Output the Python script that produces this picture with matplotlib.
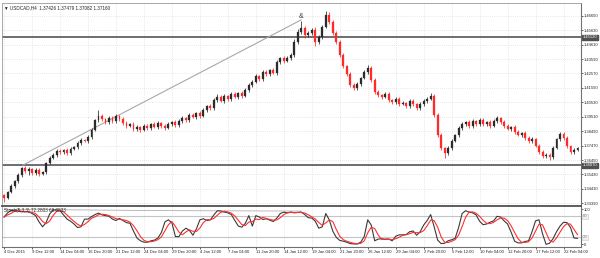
import numpy as np
import pandas as pd
import matplotlib
matplotlib.use("Agg")
import matplotlib.pyplot as plt

plt.rcParams["font.family"] = ["Liberation Sans", "DejaVu Sans"]

# ---------------- data ----------------
first_open = 1.3400
closes = [
    1.3376, 1.3419, 1.3461, 1.3496, 1.3539, 1.3588, 1.3567, 1.3581, 1.3553, 1.3574, 1.3546, 1.3560, 1.3624, 1.3659, 1.3680,
    1.3708, 1.3701, 1.3716, 1.3694, 1.3723, 1.3737, 1.3765, 1.3786, 1.3779, 1.3807, 1.3857, 1.3928, 1.3956, 1.3935, 1.3913,
    1.3942, 1.3920, 1.3956, 1.3935, 1.3906, 1.3885, 1.3899, 1.3864, 1.3878, 1.3857, 1.3885, 1.3871, 1.3899, 1.3878, 1.3906,
    1.3885, 1.3871, 1.3899, 1.3913, 1.3892, 1.3920, 1.3942, 1.3928, 1.3963, 1.3949, 1.3977, 1.3956, 1.3998, 1.4027, 1.4012,
    1.4069, 1.4090, 1.4062, 1.4097, 1.4076, 1.4111, 1.4090, 1.4119, 1.4097, 1.4140, 1.4175, 1.4196, 1.4239, 1.4218, 1.4267,
    1.4253, 1.4281, 1.4260, 1.4338, 1.4366, 1.4345, 1.4366, 1.4387, 1.4479, 1.4550, 1.4578, 1.4529, 1.4543, 1.4564, 1.4479,
    1.4514, 1.4585, 1.4670, 1.4620, 1.4543, 1.4479, 1.4387, 1.4309, 1.4253, 1.4175, 1.4154, 1.4182, 1.4225, 1.4267, 1.4295,
    1.4210, 1.4126, 1.4104, 1.4090, 1.4111, 1.4069, 1.4055, 1.4076, 1.4041, 1.4048, 1.4027, 1.4062, 1.4041, 1.4012, 1.4041,
    1.4062, 1.4076, 1.4097, 1.3963, 1.3822, 1.3730, 1.3694, 1.3730, 1.3779, 1.3822, 1.3871, 1.3899, 1.3913, 1.3885, 1.3920,
    1.3899, 1.3928, 1.3899, 1.3913, 1.3885, 1.3920, 1.3942, 1.3913, 1.3885, 1.3864, 1.3878, 1.3843, 1.3822, 1.3836, 1.3800,
    1.3779, 1.3793, 1.3744, 1.3701, 1.3673, 1.3680, 1.3666, 1.3730, 1.3793, 1.3829, 1.3800, 1.3744, 1.3701, 1.3716, 1.3730,
]
upper_wick_pips = [
    8, 10, 12, 8, 14, 10, 18, 12, 10, 16, 12, 10, 8, 14, 12,
    18, 14, 10, 16, 12, 10, 14, 12, 10, 15, 12, 10, 40, 14, 10,
    16, 12, 14, 10, 12, 15, 10, 14, 12, 10, 16, 12, 10, 14, 12,
    10, 15, 12, 10, 14, 12, 16, 10, 12, 14, 10, 12, 18, 10, 12,
    14, 25, 12, 16, 10, 12, 14, 10, 12, 15, 16, 12, 14, 10, 12,
    15, 10, 14, 12, 10, 16, 12, 14, 18, 20, 50, 15, 14, 12, 18,
    14, 16, 30, 20, 15, 12, 14, 12, 10, 16, 12, 14, 10, 12, 20,
    14, 12, 16, 10, 12, 14, 10, 12, 16, 14, 10, 12, 14, 10, 12,
    15, 12, 25, 16, 14, 12, 10, 12, 14, 10, 12, 14, 10, 12, 16,
    10, 12, 14, 10, 12, 16, 14, 10, 12, 14, 10, 12, 14, 10, 12,
    15, 14, 10, 12, 14, 12, 16, 14, 10, 12, 14, 12, 10, 12, 10,
]
lower_wick_pips = [
    25, 10, 8, 12, 10, 14, 12, 30, 16, 12, 14, 10, 12, 8, 10,
    12, 16, 10, 14, 12, 10, 12, 14, 10, 12, 15, 10, 12, 14, 16,
    12, 14, 10, 12, 16, 14, 10, 12, 14, 16, 10, 12, 14, 10, 12,
    14, 12, 10, 16, 12, 14, 10, 12, 14, 10, 12, 16, 10, 12, 14,
    12, 14, 10, 12, 16, 14, 10, 12, 14, 10, 12, 16, 10, 12, 14,
    12, 14, 10, 12, 16, 14, 10, 12, 14, 12, 14, 20, 12, 14, 25,
    14, 12, 10, 12, 14, 16, 12, 14, 12, 16, 14, 12, 14, 10, 12,
    16, 14, 12, 14, 10, 12, 16, 14, 12, 10, 14, 12, 16, 14, 12,
    12, 14, 10, 16, 14, 12, 35, 14, 12, 10, 12, 14, 10, 12, 14,
    12, 10, 14, 12, 16, 10, 12, 14, 12, 10, 14, 12, 10, 16, 12,
    14, 12, 10, 16, 12, 14, 18, 12, 10, 14, 12, 16, 14, 12, 10,
]
stoch_k = [
    78, 90, 97, 96, 95, 93, 93, 93, 88, 82, 64, 50, 62, 86, 98,
    98, 96, 84, 72, 66, 58, 48, 50, 72, 72, 79, 85, 89, 84, 82,
    80, 72, 68, 74, 68, 62, 60, 38, 18, 10, 6, 6, 10, 12, 18,
    34, 64, 70, 61, 22, 22, 38, 46, 40, 26, 44, 70, 73, 68, 70,
    84, 96, 95, 92, 90, 85, 68, 52, 49, 60, 82, 52, 82, 78, 71,
    73, 69, 65, 75, 88, 92, 90, 92, 90, 91, 92, 85, 76, 75, 66,
    46, 50, 88, 70, 38, 20, 11, 9, 6, 2, 1, 1, 6, 22, 70,
    55, 10, 15, 16, 14, 15, 10, 23, 27, 27, 28, 36, 38, 26, 36,
    55, 68, 85, 50, 12, 2, 3, 10, 13, 17, 48, 88, 96, 92, 90,
    84, 66, 56, 58, 63, 67, 80, 78, 67, 58, 35, 9, 4, 4, 8,
    10, 36, 67, 70, 30, 0, 3, 16, 36, 52, 63, 62, 48, 18, 17,
]
price_ticks = [1.46650, 1.45630, 1.44610, 1.43590, 1.42570, 1.41550, 1.40530,
               1.39510, 1.38490, 1.37470, 1.36450, 1.35430, 1.34410, 1.33390]
x_labels = ["4 Dec 2015", "9 Dec 12:00", "14 Dec 04:00", "16 Dec 20:00", "21 Dec 12:00",
            "24 Dec 04:00", "29 Dec 20:00", "4 Jan 12:00", "7 Jan 04:00", "11 Jan 20:00",
            "14 Jan 12:00", "19 Jan 04:00", "21 Jan 20:00", "26 Jan 12:00", "29 Jan 04:00",
            "2 Feb 20:00", "5 Feb 12:00", "10 Feb 04:00", "12 Feb 20:00", "17 Feb 12:00",
            "22 Feb 04:00"]
x_label_step = 8
level_high = 1.45120
level_low = 1.36070
trend_x = [5.4, 84.9]
trend_y = [1.3609, 1.4635]
stoch_levels = [80, 20]
title_text = "\u25bc USDCAD,H4  1.37426 1.37479 1.37082 1.37160"
stoch_text = "Stoch(5,3,3) 72.2803 69.0833"

# ---------------- derived ----------------
c = np.array(closes)
n = len(c)
o = np.r_[first_open, c[:-1]]
hi = np.maximum(o, c) + np.array(upper_wick_pips) / 1e4
lo = np.minimum(o, c) - np.array(lower_wick_pips) / 1e4
stoch_d = pd.Series(stoch_k, dtype=float).rolling(3, min_periods=1).mean().values
idx = np.arange(n)

W, H = 600, 258
fig = plt.figure(figsize=(W / 100, H / 100), dpi=100)
fig.patch.set_facecolor("white")


def rect(x0, y0, x1, y1):
    return [x0 / W, 1 - y1 / H, (x1 - x0) / W, (y1 - y0) / H]


ax = fig.add_axes(rect(2, 3, 581, 206))
ax2 = fig.add_axes(rect(2, 207, 581, 247))

UP = "#2b2b2b"
DN = "#ff2a2a"
GRID = "#d2d2d2"
FS = 3.0

xlim = (-0.6, 165.0)
tick_pos = np.arange(len(x_labels)) * x_label_step

# candles
bull = c >= o
cols = np.where(bull, UP, DN)
ax.vlines(idx, lo, hi, colors=cols, linewidth=0.55, zorder=3)
body_h = np.maximum(np.abs(c - o), 0.00012)
ax.bar(idx, body_h, bottom=np.minimum(o, c), width=0.55, color=cols,
       edgecolor=cols, linewidth=0.2, zorder=4)

ax.set_xlim(*xlim)
ax.set_ylim(1.3320, 1.4755)

# horizontal levels and trend line
ax.axhline(level_high, color="#555555", lw=1.2, zorder=2)
ax.axhline(level_low, color="#555555", lw=1.2, zorder=2)
ax.plot(trend_x, trend_y, color="#a8a8a8", lw=0.8, zorder=2)
ax.text(trend_x[1], 1.4660, "&", fontsize=5, color="#404040", ha="center", va="center", zorder=5)

# grid
for t in tick_pos:
    ax.axvline(t, color=GRID, lw=0.5, ls=(0, (1, 2)), zorder=1)
    ax2.axvline(t, color=GRID, lw=0.5, ls=(0, (1, 2)), zorder=1)
for p in price_ticks:
    ax.axhline(p, color=GRID, lw=0.5, ls=(0, (1, 2)), zorder=1)

# right axis price labels
ax.yaxis.tick_right()
ax.set_yticks(price_ticks)
ax.set_yticklabels([f"{p:.5f}" for p in price_ticks])
ax.tick_params(axis="y", labelsize=FS, length=1.5, width=0.5, pad=0.8, colors="#222222")
ax.tick_params(axis="x", bottom=False, labelbottom=False)
for p in (level_high, level_low):
    ax.text(1.0025, p, f"{p:.5f}", transform=ax.get_yaxis_transform(), fontsize=FS,
            color="white", va="center", ha="left",
            bbox=dict(boxstyle="square,pad=0.15", fc="#505050", ec="#505050"))

for s in ["top", "left"]:
    ax.spines[s].set_color("#9a9a9a")
    ax.spines[s].set_linewidth(0.6)
ax.spines["right"].set_color("#707070")
ax.spines["right"].set_linewidth(0.8)
ax.spines["bottom"].set_color("#505050")
ax.spines["bottom"].set_linewidth(1.3)

fig.text(4 / W, 1 - 8 / H, title_text, fontsize=3.3, color="#222222", ha="left", va="center")

# ---------------- stochastic panel ----------------
for lv in stoch_levels:
    ax2.axhline(lv, color="#c4c4c4", lw=0.8, zorder=1)
ax2.plot([0, 50, 85], [100, 96, 95], color="#a0a0a0", lw=0.5, zorder=1)
ax2.plot(idx, stoch_k, color="#3a3a3a", lw=0.8, zorder=3)
ax2.plot(idx, stoch_d, color="#ff3030", lw=0.8, zorder=4)
ax2.set_xlim(*xlim)
ax2.set_ylim(-7.7, 106.6)
ax2.yaxis.tick_right()
ax2.set_yticks([100, 0])
ax2.set_yticklabels(["100", "0"])
ax2.tick_params(axis="y", labelsize=FS, length=1.5, width=0.5, pad=0.8, colors="#222222")
for lv in stoch_levels:
    ax2.text(1.0025, lv, str(lv), transform=ax2.get_yaxis_transform(), fontsize=FS,
             color="#888888", va="center", ha="left",
             bbox=dict(boxstyle="square,pad=0.15", fc="#eeeeee", ec="#c8c8c8", lw=0.4))
ax2.text(0.004, 0.97, stoch_text, transform=ax2.transAxes, fontsize=3.3,
         color="#222222", ha="left", va="top", zorder=5)

ax2.set_xticks(tick_pos)
ax2.set_xticklabels(x_labels, ha="left")
ax2.tick_params(axis="x", labelsize=FS, length=1.5, width=0.5, pad=1.0, colors="#222222")
ax2.spines["top"].set_visible(False)
ax2.spines["left"].set_color("#9a9a9a")
ax2.spines["left"].set_linewidth(0.6)
ax2.spines["right"].set_color("#707070")
ax2.spines["right"].set_linewidth(0.8)
ax2.spines["bottom"].set_color("#707070")
ax2.spines["bottom"].set_linewidth(0.8)

fig.savefig("out.png", dpi=100, facecolor="white")
